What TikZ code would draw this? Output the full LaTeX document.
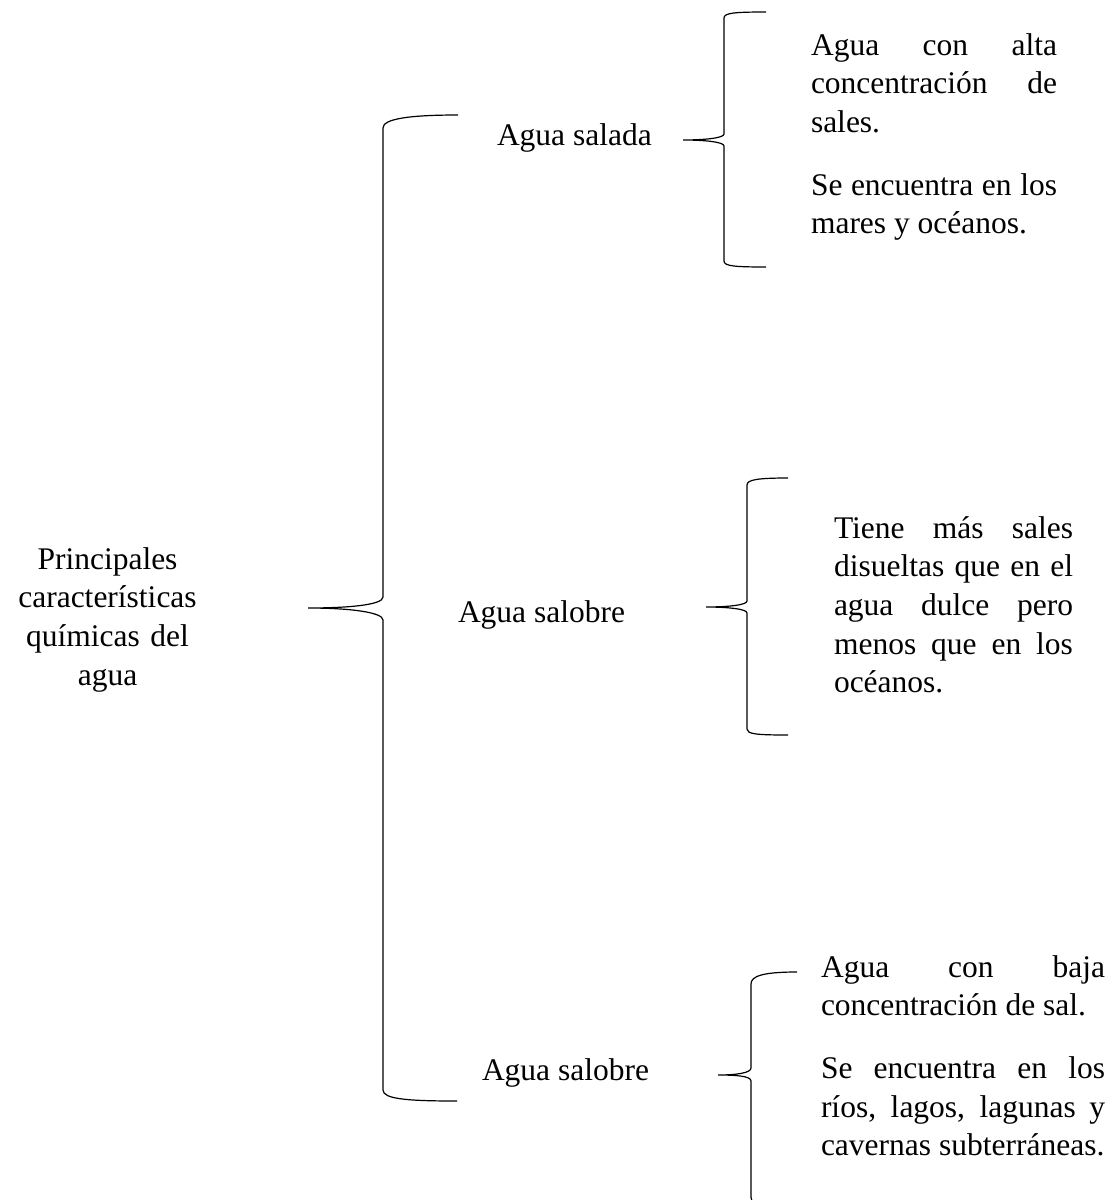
\documentclass[tikz,border=0pt]{standalone}
\usepackage{fontspec}
\setmainfont{Liberation Serif}
\begin{document}
\begin{tikzpicture}[x=1pt,y=-1pt,
  txt/.style={inner sep=0pt, outer sep=0pt, anchor=base west,
    font=\fontsize{31.5}{38.7}\selectfont},
  para/.style={txt, text width=#1, align=justify,
    execute at begin node={\tolerance=10000\hbadness=10000\hyphenpenalty=10000\parskip=24pt\parindent=0pt}},
  bracepath/.style={line width=1.2pt, black}]
\useasboundingbox (0,0) rectangle (1112,1200);
\clip (0,0) rectangle (1112,1200);

% title on the left
\node[txt, anchor=base, text width=210pt, align=center] (title) at (107.5,569)
  {Principales\\características\\químicas del\\agua};

% the three kinds of water
\node[txt] (salada)   at (497,145)  {Agua salada};
\node[txt] (salobre)  at (458,622)  {Agua salobre};
\node[txt] (salobreb) at (482,1080) {Agua salobre};

% descriptions
\node[para=246pt] (d1) at (811,55)
  {Agua con alta\linebreak concentración de\linebreak sales.\par
   Se encuentra en los\linebreak mares y océanos.};
\node[para=239pt] (d2) at (834,538)
  {Tiene más sales\linebreak disueltas que en el\linebreak agua dulce pero\linebreak menos que en los\linebreak océanos.};
\node[para=284pt] (d3) at (821,977)
  {Agua con baja\linebreak concentración de sal.\par
   Se encuentra en los\linebreak ríos, lagos, lagunas y\linebreak cavernas subterráneas.};

% brace points: top end, spine top, spine above tip, tip, spine below tip, spine bottom, bottom end
\coordinate (Bt)  at (458,115);  \coordinate (Bs1) at (383,128);
\coordinate (Ba)  at (383,597);  \coordinate (Btip) at (308,608);
\coordinate (Bb)  at (383,620);  \coordinate (Bs2) at (383,1090);
\coordinate (Be)  at (457,1101);

\coordinate (At)  at (766,12);   \coordinate (As1) at (724,18);
\coordinate (Aa)  at (724,134);  \coordinate (Atip) at (683,140);
\coordinate (Ab)  at (724,146);  \coordinate (As2) at (724,261);
\coordinate (Ae)  at (766,267);

\coordinate (Ct)  at (788,478);  \coordinate (Cs1) at (747,485);
\coordinate (Ca)  at (747,601);  \coordinate (Ctip) at (706,607);
\coordinate (Cb)  at (747,613);  \coordinate (Cs2) at (747,729);
\coordinate (Ce)  at (788,735);

\coordinate (Dt)  at (797,972);  \coordinate (Ds1) at (751,984);
\coordinate (Da)  at (751,1068); \coordinate (Dtip) at (718,1075);
\coordinate (Db)  at (751,1081); \coordinate (Ds2) at (751,1197);
\coordinate (De)  at (797,1209);

% main brace
\draw[bracepath] (Bt) .. controls +(-50,0) and +(0,-9) .. (Bs1) -- (Ba)
  .. controls +(0,8) and +(40,0) .. (Btip)
  .. controls +(40,0) and +(0,-8) .. (Bb) -- (Bs2)
  .. controls +(0,9) and +(-50,0) .. (Be);

% brace of "Agua salada"
\draw[bracepath] (At) .. controls +(-32,0) and +(0,-5) .. (As1) -- (Aa)
  .. controls +(0,4) and +(22,0) .. (Atip)
  .. controls +(22,0) and +(0,-4) .. (Ab) -- (As2)
  .. controls +(0,5) and +(-32,0) .. (Ae);

% brace of the middle "Agua salobre"
\draw[bracepath] (Ct) .. controls +(-32,0) and +(0,-5) .. (Cs1) -- (Ca)
  .. controls +(0,4) and +(22,0) .. (Ctip)
  .. controls +(22,0) and +(0,-4) .. (Cb) -- (Cs2)
  .. controls +(0,5) and +(-32,0) .. (Ce);

% brace of the lower "Agua salobre"
\draw[bracepath] (Dt) .. controls +(-34,0) and +(0,-8) .. (Ds1) -- (Da)
  .. controls +(0,5) and +(18,0) .. (Dtip)
  .. controls +(18,0) and +(0,-5) .. (Db) -- (Ds2)
  .. controls +(0,8) and +(-34,0) .. (De);
\end{tikzpicture}
\end{document}
